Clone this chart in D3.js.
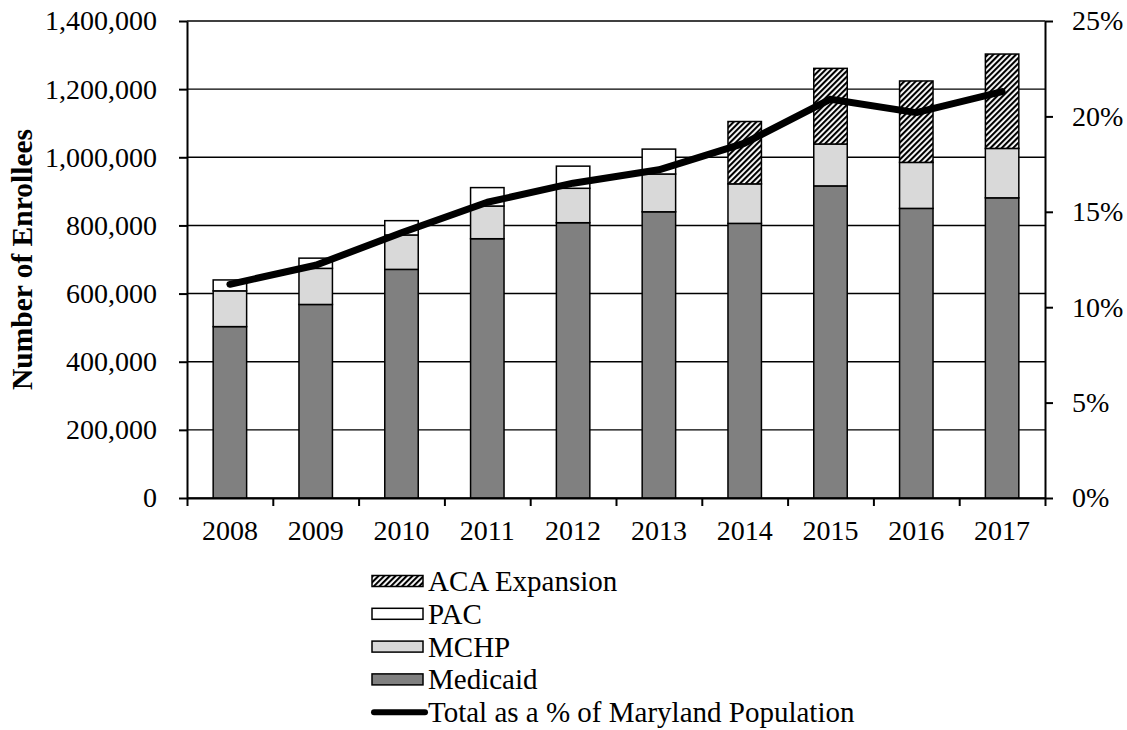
<!DOCTYPE html>
<html lang="en">
<head>
<meta charset="UTF-8">
<title>Maryland Medicaid Enrollees 2008-2017</title>
<script src="https://d3js.org/d3.v7.min.js"></script>
<style>
  body { margin: 0; background: #fff; }
  svg text { font-family: "Liberation Serif", "Times New Roman", serif; fill: #000; }
</style>
</head>
<body>
<script>
// Data
var years    = ["2008", "2009", "2010", "2011", "2012", "2013", "2014", "2015", "2016", "2017"];
var medicaid = [503000, 568000, 671000, 761000, 808000, 840000, 806000, 916000, 850000, 881000];
var mchp     = [105000, 106000, 101000,  96000, 101000, 111000, 116000, 123000, 135000, 145000];
var pac      = [ 32000,  30000,  42000,  54000,  65000,  73000,      0,      0,      0,      0];
var aca      = [     0,      0,      0,      0,      0,      0, 183000, 222000, 239000, 277000];
var pctPop   = [11.2, 12.2, 13.9, 15.5, 16.5, 17.2, 18.6, 20.9, 20.2, 21.3];

var leftTicks  = [0, 200000, 400000, 600000, 800000, 1000000, 1200000, 1400000];
var rightTicks = [0, 5, 10, 15, 20, 25];

var seriesKeys   = ["medicaid", "mchp", "pac", "aca"];
var seriesLabels = {aca: "ACA Expansion", pac: "PAC", mchp: "MCHP", medicaid: "Medicaid"};
var lineLabel    = "Total as a % of Maryland Population";

function diagrama() {
  var ancho = 1127, alto = 730;
  var margen = {top: 21, right: 82, bottom: 232, left: 187};

  var svg = d3.select("body").append("svg")
      .attr("width", ancho)
      .attr("height", alto);

  // hatch for the ACA segment
  var pat = svg.append("defs").append("pattern")
      .attr("id", "hatch")
      .attr("patternUnits", "userSpaceOnUse")
      .attr("width", 4).attr("height", 4)
      .attr("patternTransform", "rotate(45)");
  pat.append("rect").attr("width", 4).attr("height", 4).attr("fill", "#fff");
  pat.append("rect").attr("x", 0).attr("y", 0).attr("width", 2.1).attr("height", 4)
      .attr("fill", "#000");

  var fills = {medicaid: "#808080", mchp: "#d9d9d9", pac: "#ffffff", aca: "url(#hatch)"};

  // table for the stack
  var tabla = years.map(function(y, i) {
    return {year: y, medicaid: medicaid[i], mchp: mchp[i], pac: pac[i], aca: aca[i]};
  });
  var pilas = d3.stack().keys(seriesKeys)(tabla);

  // scales
  var x = d3.scaleBand()
      .domain(years)
      .range([margen.left, ancho - margen.right])
      .paddingInner(0.61)
      .paddingOuter(0.305);

  var xBorde = d3.scaleLinear()
      .domain([0, years.length])
      .range([margen.left, ancho - margen.right]);

  var y = d3.scaleLinear()
      .domain([0, 1400000])
      .range([alto - margen.bottom, margen.top]);

  var y2 = d3.scaleLinear()
      .domain([0, 25])
      .range([alto - margen.bottom, margen.top]);

  // gridlines
  svg.append("g").selectAll("line")
     .data(leftTicks)
     .enter().append("line")
     .attr("x1", margen.left).attr("x2", ancho - margen.right)
     .attr("y1", function(d) { return y(d); })
     .attr("y2", function(d) { return y(d); })
     .attr("stroke", "#000").attr("stroke-width", 1.4);

  // stacked bars
  svg.append("g").selectAll("g")
     .data(pilas)
     .enter().append("g")
     .attr("fill", function(d) { return fills[d.key]; })
     .selectAll("rect")
     .data(function(d) { return d.filter(function(p) { return p[1] - p[0] > 0; }); })
     .enter().append("rect")
     .attr("x", function(d) { return x(d.data.year); })
     .attr("y", function(d) { return y(d[1]); })
     .attr("width", x.bandwidth())
     .attr("height", function(d) { return y(d[0]) - y(d[1]); })
     .attr("stroke", "#000")
     .attr("stroke-width", 1.5);

  // line of percent of population
  var linea = d3.line()
      .x(function(d, i) { return x(years[i]) + x.bandwidth() / 2; })
      .y(function(d) { return y2(d); });

  svg.append("path")
     .datum(pctPop)
     .attr("d", linea)
     .attr("fill", "none")
     .attr("stroke", "#000")
     .attr("stroke-width", 7)
     .attr("stroke-linecap", "round")
     .attr("stroke-linejoin", "round");

  // left axis
  var ejeY = svg.append("g")
     .attr("transform", "translate(" + margen.left + ",0)")
     .call(d3.axisLeft(y).tickValues(leftTicks).tickFormat(d3.format(","))
           .tickSize(8).tickSizeOuter(0).tickPadding(22));

  // right axis
  var ejeY2 = svg.append("g")
     .attr("transform", "translate(" + (ancho - margen.right) + ",0)")
     .call(d3.axisRight(y2).tickValues(rightTicks).tickFormat(function(d) { return d + "%"; })
           .tickSize(8).tickSizeOuter(0).tickPadding(19));

  // bottom axis: boundary ticks and centred labels
  var ejeX = svg.append("g")
     .attr("transform", "translate(0," + (alto - margen.bottom) + ")")
     .call(d3.axisBottom(xBorde).ticks(years.length).tickFormat("")
           .tickSize(8).tickSizeOuter(0));

  var ejeXlab = svg.append("g")
     .attr("transform", "translate(0," + (alto - margen.bottom) + ")")
     .call(d3.axisBottom(x).tickSize(8).tickPadding(14));
  ejeXlab.select(".domain").remove();
  ejeXlab.selectAll(".tick line").remove();

  [ejeY, ejeY2, ejeX, ejeXlab].forEach(function(g) {
    g.attr("font-family", null);
    g.selectAll("text").attr("font-size", 28).attr("fill", "#000");
    g.selectAll("path, line").attr("stroke", "#000").attr("stroke-width", 2);
  });

  // y axis title
  svg.append("text")
     .attr("transform", "translate(32," + ((margen.top + alto - margen.bottom) / 2) + ") rotate(-90)")
     .attr("text-anchor", "middle")
     .attr("font-size", 29.5)
     .attr("font-weight", "bold")
     .text("Number of Enrollees");

  // legend
  var leyenda = svg.append("g").attr("transform", "translate(372,581)");
  var filas = ["aca", "pac", "mchp", "medicaid"];
  var paso = 32.8;

  filas.forEach(function(k, i) {
    leyenda.append("rect")
       .attr("x", 0).attr("y", i * paso - 5.5)
       .attr("width", 51).attr("height", 11)
       .attr("fill", fills[k])
       .attr("stroke", "#000").attr("stroke-width", 1.5);
    leyenda.append("text")
       .attr("x", 56).attr("y", i * paso + 10)
       .attr("font-size", 29)
       .text(seriesLabels[k]);
  });

  leyenda.append("line")
     .attr("x1", 2).attr("x2", 53)
     .attr("y1", 4 * paso).attr("y2", 4 * paso)
     .attr("stroke", "#000").attr("stroke-width", 6)
     .attr("stroke-linecap", "round");
  leyenda.append("text")
     .attr("x", 56).attr("y", 4 * paso + 10)
     .attr("font-size", 29)
     .text(lineLabel);
}

diagrama();
</script>
</body>
</html>
